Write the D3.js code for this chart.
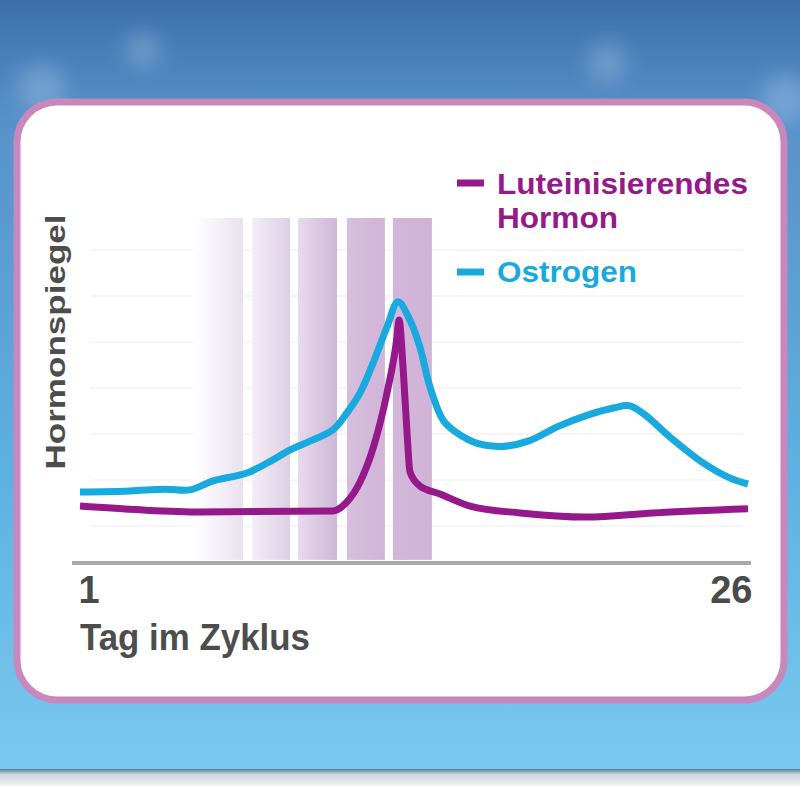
<!DOCTYPE html>
<html>
<head>
<meta charset="utf-8">
<script src="https://cdn.jsdelivr.net/npm/d3@7"></script>
<style>
  body { margin: 0; padding: 0; overflow: hidden; }
  svg { display: block; }
</style>
</head>
<body>
<svg id="chart" width="800" height="786"></svg>
<script>

// day in cycle, hormone level (0-100)
let lhDays = [1, 3.25, 5.5, 10.47, 10.99, 11.48, 11.97, 12.49, 12.86, 12.94, 13.09, 13.24, 13.35, 13.72, 14.47, 15.6, 17.47, 19.97, 22.44, 26]
let lhLevel = [16.5, 15.4, 14.8, 15.1, 17.7, 23.5, 33.3, 49.3, 65.2, 70.4, 56.8, 37.7, 26.4, 22.3, 20.0, 16.5, 14.5, 13.3, 14.5, 15.7]

let estDays = [1, 2.87, 4.18, 5.12, 5.98, 7.25, 8.22, 8.86, 9.72, 10.47, 10.99, 11.48, 11.97, 12.49, 12.9, 13.35, 13.72, 14.1, 14.59, 15.11, 15.9, 16.8, 17.8, 18.9, 19.97, 21.0, 21.55, 22.1, 23.08, 24.32, 25.33, 26]
let estLevel = [20.6, 20.9, 21.4, 21.2, 23.8, 26.1, 29.9, 32.8, 35.7, 38.6, 43.5, 49.3, 58.0, 68.4, 75.7, 70.4, 62.6, 51.0, 41.4, 37.7, 34.6, 33.8, 35.4, 39.6, 42.8, 45.0, 45.6, 43.2, 36.5, 29.0, 24.6, 22.9]

// shaded fertile window bands (start day, end day)
let bandStart = [5.23, 7.44, 9.16, 10.99, 12.71]
let bandEnd = [7.10, 8.86, 10.62, 12.41, 14.17]
let bandFrom = ["#ffffff", "#f3eef6", "#e7daed", "#d6bedd", "#d2b6d9"]
let bandTo = ["#e9e1ef", "#ddcfe4", "#ceb7d7", "#d1b4d8", "#d0b3d7"]

let xTicks = [1, 26]
let gridLevels = [10.7, 24, 37.4, 50.7, 64, 77.4, 90.7]

let seriesNames = ["Luteinisierendes", "Ostrogen"]
let lhColor = "#96198b"
let estColor = "#18a9df"

let svg = d3.select("#chart")
let defs = svg.append("defs")

// ---- background ----
let bg = defs.append("linearGradient").attr("id", "bg").attr("x1", 0).attr("y1", 0).attr("x2", 0).attr("y2", 1)
bg.append("stop").attr("offset", "0%").attr("stop-color", "#3d70aa")
bg.append("stop").attr("offset", "15%").attr("stop-color", "#5891c9")
bg.append("stop").attr("offset", "60%").attr("stop-color", "#5fb0e2")
bg.append("stop").attr("offset", "97%").attr("stop-color", "#79c8ef")
bg.append("stop").attr("offset", "100%").attr("stop-color", "#7dc9ef")

svg.append("rect").attr("width", 800).attr("height", 786).attr("fill", "url(#bg)")

let blur = defs.append("filter").attr("id", "blur").attr("x", "-50%").attr("y", "-50%").attr("width", "200%").attr("height", "200%")
blur.append("feGaussianBlur").attr("stdDeviation", 10)

let bokeh = [[143, 50, 18], [42, 88, 24], [607, 62, 20], [785, 98, 24]]
svg.append("g").selectAll("circle").data(bokeh).join("circle")
    .attr("cx", d => d[0]).attr("cy", d => d[1]).attr("r", d => d[2])
    .attr("fill", "#cfe6fa").attr("opacity", 0.25).attr("filter", "url(#blur)")

// bottom strip
let strip = defs.append("linearGradient").attr("id", "strip").attr("x1", 0).attr("y1", 0).attr("x2", 0).attr("y2", 1)
strip.append("stop").attr("offset", "0%").attr("stop-color", "#4f7c92")
strip.append("stop").attr("offset", "30%").attr("stop-color", "#c9d6dc")
strip.append("stop").attr("offset", "100%").attr("stop-color", "#f3f1f3")
svg.append("rect").attr("x", 0).attr("y", 769).attr("width", 800).attr("height", 17).attr("fill", "url(#strip)")

// ---- card ----
svg.append("rect")
    .attr("x", 17).attr("y", 102).attr("width", 767).attr("height", 598)
    .attr("rx", 40)
    .attr("fill", "#ffffff")
    .attr("stroke", "#c887bd")
    .attr("stroke-width", 7)

// ---- scales ----
let x = d3.scaleLinear().domain([1, 26]).range([80, 748])
let y = d3.scaleLinear().domain([0, 100]).range([563, 218])

// very faint grid
svg.append("g").selectAll("line").data(gridLevels).join("line")
    .attr("x1", x(1) + 10).attr("x2", x(26) - 5)
    .attr("y1", d => y(d)).attr("y2", d => y(d))
    .attr("stroke", "#f7f5f9").attr("stroke-width", 2)

// bands
bandStart.forEach((s, i) => {
    let g = defs.append("linearGradient").attr("id", "band" + i)
    g.append("stop").attr("offset", "0%").attr("stop-color", bandFrom[i])
    g.append("stop").attr("offset", "100%").attr("stop-color", bandTo[i])
})

svg.append("g").selectAll("rect").data(bandStart).join("rect")
    .attr("x", d => x(d))
    .attr("width", (d, i) => x(bandEnd[i]) - x(d))
    .attr("y", y(100))
    .attr("height", y(0.9) - y(100))
    .attr("fill", (d, i) => "url(#band" + i + ")")

// x axis
let xAxis = svg.append("g")
    .attr("transform", "translate(0," + y(0) + ")")
    .call(d3.axisBottom(x).tickValues(xTicks).tickSize(0).tickPadding(12).tickFormat(d3.format("d")))

xAxis.select(".domain").remove()
xAxis.append("line")
    .attr("x1", x(1) - 8).attr("x2", x(26) + 3)
    .attr("stroke", "#a9a9a9").attr("stroke-width", 4)

xAxis.selectAll(".tick text")
    .attr("fill", "#4a4a4a")
    .attr("font-family", "'Liberation Sans Narrow', 'Liberation Sans', Arial, sans-serif")
    .attr("font-weight", "bold")
    .attr("font-size", 38)
    .attr("dy", 0)
    .attr("y", 40)
    .attr("text-anchor", (d, i) => i === 0 ? "start" : "end")
    .attr("dx", (d, i) => i === 0 ? -2 : 4)

svg.append("text")
    .attr("x", 80).attr("y", 650)
    .attr("fill", "#4d4d4d")
    .attr("font-family", "'Liberation Sans Narrow', 'Liberation Sans', Arial, sans-serif")
    .attr("font-weight", "bold")
    .attr("font-size", 37)
    .attr("textLength", 230)
    .attr("lengthAdjust", "spacingAndGlyphs")
    .text("Tag im Zyklus")

svg.append("text")
    .attr("transform", "translate(65,342) rotate(-90)")
    .attr("text-anchor", "middle")
    .attr("fill", "#4d4d4d")
    .attr("font-family", "'Liberation Sans', Arial, sans-serif")
    .attr("font-weight", "bold")
    .attr("font-size", 28)
    .attr("textLength", 255)
    .attr("lengthAdjust", "spacingAndGlyphs")
    .text("Hormonspiegel")

// ---- lines ----
let LineLH = d3.line()
    .x(p => x(p[0]))
    .y(p => y(p[1]))
    .curve(d3.curveMonotoneX)

let LineEst = d3.line()
    .x(p => x(p[0]))
    .y(p => y(p[1]))
    .curve(d3.curveCatmullRom.alpha(0.5))

svg.append("path")
    .attr("d", LineEst(d3.zip(estDays, estLevel)))
    .attr("fill", "none")
    .attr("stroke", estColor)
    .attr("stroke-width", 7)
    .attr("stroke-linejoin", "round")

svg.append("path")
    .attr("d", LineLH(d3.zip(lhDays, lhLevel)))
    .attr("fill", "none")
    .attr("stroke", lhColor)
    .attr("stroke-width", 7)
    .attr("stroke-linejoin", "round")

// ---- legend ----
let legend = svg.append("g").attr("font-family", "'Liberation Sans', Arial, sans-serif").attr("font-weight", "bold").attr("font-size", 29)

legend.append("line").attr("x1", 457).attr("x2", 484).attr("y1", 183).attr("y2", 183)
    .attr("stroke", lhColor).attr("stroke-width", 7)
legend.append("text").attr("x", 497).attr("y", 194).attr("fill", lhColor)
    .attr("textLength", 251).attr("lengthAdjust", "spacingAndGlyphs").text(seriesNames[0])
legend.append("text").attr("x", 497).attr("y", 228).attr("fill", lhColor)
    .attr("textLength", 121).attr("lengthAdjust", "spacingAndGlyphs").text("Hormon")

legend.append("line").attr("x1", 457).attr("x2", 484).attr("y1", 272).attr("y2", 272)
    .attr("stroke", estColor).attr("stroke-width", 7)
legend.append("text").attr("x", 497).attr("y", 282).attr("fill", estColor)
    .attr("textLength", 140).attr("lengthAdjust", "spacingAndGlyphs").text(seriesNames[1])

</script>
</body>
</html>
